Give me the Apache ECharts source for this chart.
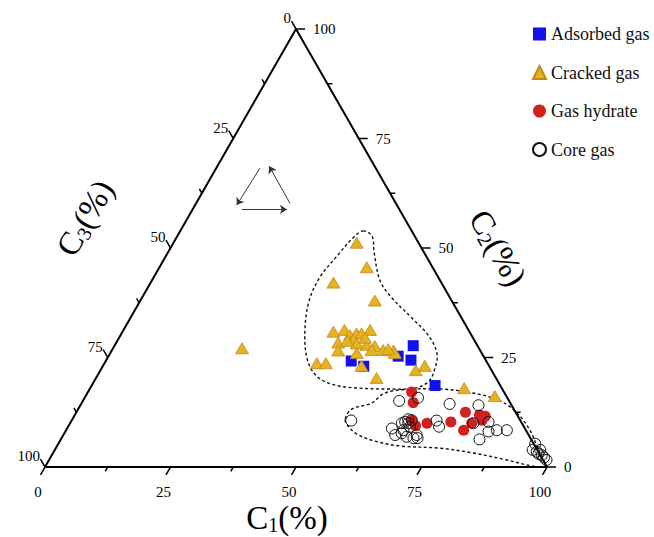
<!DOCTYPE html>
<html><head><meta charset="utf-8">
<script src="https://cdn.jsdelivr.net/npm/echarts@6/dist/echarts.min.js"></script>
<style>html,body{margin:0;padding:0;background:#fff}#c{width:654px;height:537px}</style>
</head><body><div id="c"></div>
<script>
// ternary data: [C1 %, C2 %]  (C3 = 100 - C1 - C2)
const adsorbedGas = [[59.5,27.7],[57.7,25.3],[60.7,24.4],[48.9,24.2],[52.0,23.0],[68.4,18.6]];
const crackedGas = [
[36.5,51.2],[41.3,45.6],[36.4,42.1],[46.7,38.0],[42.0,30.9],[44.0,31.3],[45.7,30.1],[46.8,30.5],
[47.8,30.5],[49.1,31.3],[44.2,28.4],[45.1,26.6],[46.9,29.0],[48.0,28.2],[50.1,27.9],[51.9,27.6],
[51.7,26.7],[54.0,26.7],[56.1,26.6],[56.7,26.0],[49.1,26.0],[42.3,23.7],[44.1,23.7],[51.5,23.1],
[55.9,20.3],[62.8,22.1],[64.1,23.1],[74.5,18.0],[81.5,16.2],[25.7,27.1],[45.8,28.8],[49.0,29.5],[54.9,26.9]];
const gasHydrate = [[64.5,17.1],[66.0,14.7],[67.8,10.6],[69.1,9.4],[71.1,10.0],[75.7,10.3],[79.2,8.4],
[77.5,12.5],[80.0,10.0],[80.6,11.9],[81.9,11.6],[81.7,10.7]];
const coreGas = [[63.0,15.1],[66.4,15.8],[73.4,14.4],[79.3,14.1],[55.7,10.6],[66.9,10.9],[66.1,10.0],
[66.6,10.3],[67.4,10.0],[67.7,10.7],[68.1,9.2],[67.2,8.4],[64.7,8.8],[66.1,7.3],[68.6,6.9],[70.1,6.6],
[70.9,6.6],[70.4,7.3],[67.2,7.7],[72.7,10.6],[73.9,9.2],[80.3,10.0],[83.2,10.3],[84.3,8.1],[85.8,8.4],
[87.8,8.4],[83.4,6.3],[95.0,5.3],[95.2,3.9],[96.2,3.5],[96.7,3.9],[97.6,2.7],[98.3,2.2],[96.8,3.0],[99.1,1.6]];
// dashed envelopes (ternary [C1, C2])
const contourCracked = [[36.4,53.9],[38.8,52.7],[41.0,49.1],[45.5,42.5],[49.8,38.6],[56.1,34.0],[61.5,29.9],
[65.2,25.8],[66.6,21.7],[66.6,19.4],[64.7,18.0],[59.8,17.8],[53.7,18.0],[48.4,18.7],[44.1,20.5],[40.4,24.0],
[36.7,30.1],[33.7,37.7],[33.1,43.4],[34.1,48.2],[35.2,52.3]];
const contourCore = [[54.3,11.0],[54.5,13.2],[57.8,14.6],[59.0,16.7],[61.9,17.6],[69.8,17.8],[76.8,16.9],
[83.1,15.1],[87.9,12.3],[92.4,8.4],[96.0,4.3],[99.5,0.2],[97.1,0.2],[91.2,1.6],[83.7,3.2],[76.5,4.3],
[68.3,4.8],[62.8,5.9],[58.4,7.5],[55.4,9.6]];
const majorTicks = [0,25,50,75,100];
const tickLabels = ['0','25','50','75','100'];
const minorTicks = [12.5,37.5,62.5,87.5];
const vertices = [[0,0],[100,0],[0,100],[0,0]];
const arrows = [[[8.7,68.2],[8.3,59.8]],[[9.8,58.8],[18.8,58.8]],[[18.7,60.2],[10.3,68.7]]];

const toXY = p => [p[0] + p[1] / 2, p[1]];
const FONT = 'Liberation Serif, Times New Roman, serif';
const mctx = document.createElement('canvas').getContext('2d');
function measure(t, f){ mctx.font = f; return mctx.measureText(t).width; }

function titleGroup(sub, cx, cy, rot){
  const fb = '33px ' + FONT, fs = '20px ' + FONT;
  const wC = measure('C', fb), wS = measure(sub, fs), wP = measure('(%)', fb);
  const x0 = -(wC + wS + wP) / 2;
  return {type:'group', x:cx, y:cy, rotation:rot, children:[
    {type:'text', style:{text:'C', x:x0, y:0, font:fb, fill:'#000', verticalAlign:'middle'}},
    {type:'text', style:{text:sub, x:x0 + wC, y:7, font:fs, fill:'#000', verticalAlign:'middle'}},
    {type:'text', style:{text:'(%)', x:x0 + wC + wS, y:0, font:fb, fill:'#000', verticalAlign:'middle'}}
  ]};
}

const chart = echarts.init(document.getElementById('c'), null, {renderer:'svg'});
chart.setOption({
  backgroundColor:'#fff',
  animation:false,
  grid:{left:45, top:29, right:107, bottom:70},
  xAxis:{type:'value', min:0, max:100, show:false},
  yAxis:{type:'value', min:0, max:100, show:false},
  legend:{
    data:['Adsorbed gas','Cracked gas','Gas hydrate','Core gas'],
    orient:'vertical', left:527, top:20, itemWidth:13, itemHeight:13, itemGap:20.5,
    textStyle:{fontFamily:FONT, fontSize:18, color:'#111'}
  },
  graphic:[
    titleGroup('1', 287, 518, 0),
    titleGroup('3', 85, 218, Math.PI / 3),
    titleGroup('2', 498, 248, -Math.PI / 3)
  ],
  series:[
    {type:'line', data:vertices.map(toXY), symbol:'none', clip:false, silent:true, z:3,
     lineStyle:{color:'#000', width:2}},
    {type:'custom', coordinateSystem:'cartesian2d', silent:true, clip:false, z:3, data:[[0,0]],
     renderItem:function(params, api){
       const ch = [];
       const tick = (p, dx, dy, len) => ch.push({type:'line',
         shape:{x1:p[0], y1:p[1], x2:p[0] + dx * len, y2:p[1] + dy * len},
         style:{stroke:'#000', lineWidth:1.5}});
       const all = majorTicks.concat(minorTicks);
       all.forEach(v => {
         const len = majorTicks.indexOf(v) >= 0 ? 9 : 5;
         tick(api.coord(toXY([v, 0])), -0.5, 0.866, len);
         tick(api.coord(toXY([100 - v, v])), 1, 0, len);
         tick(api.coord(toXY([0, 100 - v])), -0.5, -0.866, len);
       });
       majorTicks.forEach((v, i) => {
         const f = '15px ' + FONT;
         const pb = api.coord(toXY([v, 0]));
         ch.push({type:'text', style:{text:tickLabels[i], x:pb[0] - 7, y:pb[1] + 25, font:f, fill:'#000', align:'center', verticalAlign:'middle'}});
         const pr = api.coord(toXY([100 - v, v]));
         ch.push({type:'text', style:{text:tickLabels[i], x:pr[0] + 17, y:pr[1], font:f, fill:'#000', align:'left', verticalAlign:'middle'}});
         const pl = api.coord(toXY([0, 100 - v]));
         ch.push({type:'text', style:{text:tickLabels[i], x:pl[0] - 5, y:pl[1] - 11, font:f, fill:'#000', align:'right', verticalAlign:'middle'}});
       });
       return {type:'group', children:ch};
     }},
    {type:'custom', coordinateSystem:'cartesian2d', silent:true, clip:false, z:2, data:[[0,0],[0,0]],
     renderItem:function(params, api){
       const c = params.dataIndex === 0 ? contourCracked : contourCore;
       const pts = c.map(p => api.coord(toXY(p)));
       return {type:'polygon', shape:{points:pts, smooth:0.35},
         style:{fill:'none', stroke:'#111', lineWidth:1.4, lineDash:[3,2.5]}};
     }},
    {type:'lines', coordinateSystem:'cartesian2d', silent:true, z:2,
     symbol:['none','arrow'], symbolSize:7,
     lineStyle:{color:'#333', width:1, opacity:1},
     data:arrows.map(a => ({coords:a.map(toXY)}))},
    {name:'Adsorbed gas', type:'scatter', symbol:'rect', symbolSize:11, clip:false, z:4,
     itemStyle:{color:'#1212ee', opacity:1},
     data:adsorbedGas.map(toXY)},
    {name:'Cracked gas', type:'scatter', symbol:'triangle', symbolSize:[13,11], clip:false, z:4,
     itemStyle:{color:'#e6b222', borderColor:'#c08a18', borderWidth:0.8, opacity:1},
     data:crackedGas.map(toXY)},
    {name:'Gas hydrate', type:'scatter', symbol:'circle', symbolSize:11, clip:false, z:4,
     itemStyle:{color:'#d21f1f', opacity:1},
     data:gasHydrate.map(toXY)},
    {name:'Core gas', type:'scatter', symbol:'circle', symbolSize:11, clip:false, z:4,
     itemStyle:{color:'rgba(255,255,255,0)', borderColor:'#111', borderWidth:1, opacity:1},
     data:coreGas.map(toXY)}
  ]
});
</script></body></html>
